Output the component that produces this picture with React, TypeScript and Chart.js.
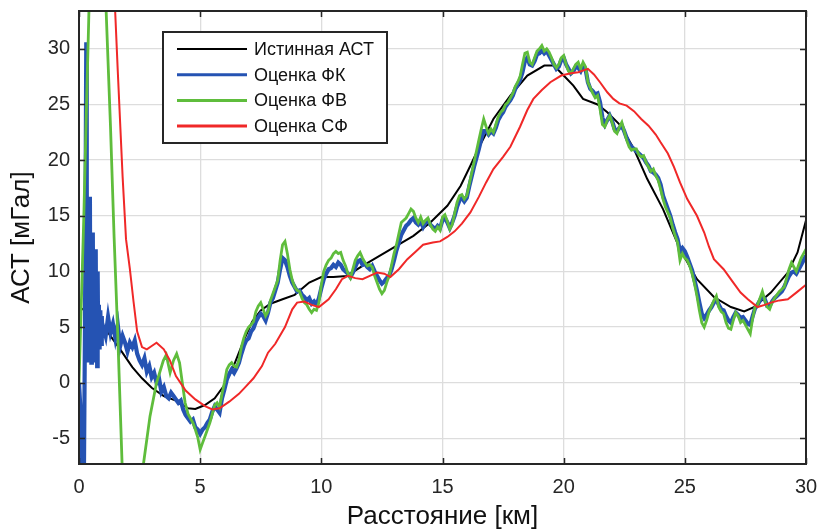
import React, { useEffect, useRef } from "react";
import { Chart, registerables } from "chart.js";

Chart.register(...registerables);

// ---------- axis ticks & labels ----------
const xTicks = [0, 5, 10, 15, 20, 25, 30];
const yTicks = [-5, 0, 5, 10, 15, 20, 25, 30];
const xRange = [0, 30];
const yRange = [-7.3, 33.4];
const seriesLabels = ["Истинная АСТ", "Оценка ФК", "Оценка ФВ", "Оценка СФ"];
const xTitle = "Расстояние [км]";
const yTitle = "АСТ [мГал]";

// ---------- true anomaly ----------
const trueX = [0, 0.4, 0.8, 1.2, 1.7, 2.2, 2.6, 3.0, 3.5, 4.0, 4.5, 4.8, 5.2, 5.6, 6.0, 6.4, 6.8, 7.15, 7.5, 7.9, 8.4, 8.9, 9.5, 10.0, 10.5, 11.05, 11.7, 12.4, 13.1, 13.8, 14.5, 15.2, 15.75, 16.15, 16.45, 17.1, 17.8, 18.5, 19.2, 19.6, 20.0, 20.4, 20.8, 21.4, 21.8, 22.35, 22.9, 23.45, 24.1, 24.8, 25.5, 26.2, 26.9, 27.45, 27.85, 28.55, 29.25, 29.65, 30];
const trueY = [6.8, 6.3, 5.5, 4.5, 3.0, 1.4, 0.4, -0.45, -1.2, -1.6, -2.3, -2.35, -2.0, -1.4, -0.2, 1.6, 3.8, 5.5, 6.5, 7.1, 7.5, 7.9, 9.0, 9.5, 9.5, 9.6, 10.5, 11.4, 12.3, 13.2, 14.4, 15.9, 17.7, 19.5, 20.9, 23.7, 25.8, 27.6, 28.5, 28.5, 27.6, 26.7, 25.5, 25.0, 24.3, 23.1, 21.0, 18.3, 15.6, 12.0, 9.3, 7.7, 6.8, 6.4, 6.8, 8.1, 9.9, 11.7, 14.6];

// ---------- Kalman filter estimate (ФК) ----------
const fkHeadX = [0, 0.05, 0.1, 0.15, 0.2, 0.25, 0.3, 0.32, 0.34, 0.37, 0.39, 0.41, 0.43, 0.45, 0.47, 0.49, 0.51, 0.53, 0.55, 0.57, 0.59, 0.61, 0.63, 0.65, 0.67, 0.69, 0.71, 0.73, 0.75, 0.77, 0.79, 0.82, 0.85, 0.88, 0.91, 0.94, 0.97];
const fkHeadY = [0, -2, -8, -9, -9, 6, 30.6, 18, 4, 13, 2, 14, 6, 16.7, 3, 12, 1.8, 10, 5, 13.5, 2.5, 11, 4, 9, 2, 12, 3.5, 8, 1.5, 10, 4, 7, 3, 6.5, 3.5, 6, 4.2];
const fkGridStart = 1.0;
const fkGridStep = 0.1;
const fkGridY = [
  5.0, 4.2, 5.9, 4.5, 5.3, 4.0, 5.2, 3.3, 4.2, 3.6,
  2.8, 3.6, 3.2, 3.8, 2.6, 2.0, 1.6, 2.2, 1.0, 1.5,
  0.5, 0.9, 0.0, 0.4, -0.8, -0.4, -1.2, -1.4, -0.9, -1.2,
  -1.5, -1.8, -1.6, -2.4, -2.9, -3.2, -3.5, -3.3, -4.0, -4.2,
  -4.6, -4.2, -4.0, -3.6, -3.3, -2.6, -2.1, -2.4, -2.7, -1.4,
  -0.6, 0.3, 0.8, 1.2, 0.9, 1.3, 1.8, 2.6, 3.3, 3.8,
  4.0, 4.6, 4.9, 5.5, 5.9, 6.2, 6.0, 5.6, 6.3, 7.2,
  7.6, 8.3, 9.0, 10.2, 11.2, 11.0, 10.4, 9.6, 9.0, 8.6,
  8.2, 8.3, 7.9, 7.7, 7.4, 7.6, 7.1, 7.3, 7.0, 7.6,
  8.5, 9.3, 9.8, 10.2, 10.3, 10.6, 10.4, 10.8, 10.6, 10.2,
  10.0, 9.8, 9.5, 9.9, 10.4, 10.9, 11.0, 10.6, 10.7, 10.4,
  10.2, 10.5, 10.0, 9.6, 9.2, 8.9, 9.1, 9.4, 9.6, 10.2,
  11.0, 11.9, 12.6, 13.3, 13.7, 14.1, 14.3, 14.6, 14.8, 14.4,
  14.2, 14.5, 14.0, 14.4, 14.6, 14.2, 14.0, 13.8, 14.1, 13.9,
  14.6, 14.8, 14.4, 13.9, 14.4, 15.0, 15.8, 16.4, 16.6, 16.3,
  16.6, 17.6, 18.5, 19.4, 20.2, 21.0, 21.9, 22.6, 22.6, 22.3,
  22.6, 22.4, 22.9, 23.6, 24.0, 24.3, 24.8, 25.1, 25.4, 25.8,
  26.4, 26.8, 27.2, 27.9, 28.9, 29.2, 28.6, 28.5, 28.9, 29.5,
  29.6, 29.9, 29.6, 29.8, 29.4, 29.0, 28.6, 28.2, 28.4, 29.0,
  29.2, 28.6, 28.2, 27.8, 28.0, 28.4, 28.3, 28.0, 28.5, 28.2,
  27.0, 26.4, 26.2, 25.9, 26.0, 25.2, 23.8, 23.2, 23.6, 24.0,
  23.5, 22.8, 22.6, 22.9, 23.1, 22.6, 22.0, 21.5, 21.2, 21.0,
  20.8, 20.6, 20.4, 20.2, 19.8, 19.5, 19.0, 18.9, 18.7, 18.4,
  17.8, 16.8, 16.2, 15.6, 15.0, 14.2, 13.5, 12.9, 11.8, 12.1,
  11.8, 11.3, 10.7, 10.1, 9.2, 8.3, 7.2, 6.2, 5.8, 6.1,
  6.5, 6.8, 7.2, 7.5, 7.0, 6.6, 6.5, 6.0, 5.6, 5.4,
  5.9, 6.3, 6.1, 5.8, 5.9, 5.6, 5.3, 5.2, 6.0, 6.7,
  7.0, 7.4, 7.8, 7.5, 6.9, 6.9, 7.3, 7.6, 7.8, 8.0,
  8.2, 8.6, 9.1, 9.6, 9.9, 10.0, 9.8, 10.2, 10.6, 11.0,
  11.4,
];

// ---------- ФВ estimate ----------
const fvHeadX = [0, 0.1, 0.2, 0.3, 0.4, 0.46, 1.05, 1.12, 1.3, 1.45, 1.6, 1.78, 2.2, 2.66, 2.93, 3.2, 3.48, 3.6, 3.76, 3.9, 4.03, 4.15, 4.25, 4.38, 4.5, 4.7, 4.8, 4.9];
const fvHeadY = [0, 7.5, 15, 24, 32.5, 38, 38, 33.4, 23, 13, 4.3, -7.4, -18, -7.3, -3.0, 0.0, 2.0, 2.5, 0.9, 2.0, 2.6, 1.8, 0.2, -1.8, -2.8, -3.6, -4.2, -4.9];
const fvGridStart = 5.0;
const fvGridStep = 0.1;
const fvGridY = [
  -6.0, -5.4, -4.8, -4.2, -3.6, -2.8, -2.0, -1.8, -2.2, -1.0,
  0.0, 1.2, 1.6, 1.8, 1.5, 1.4, 2.0, 3.2, 4.0, 4.6,
  5.0, 5.2, 5.5, 6.4, 6.9, 7.2, 6.6, 6.0, 6.4, 7.4,
  8.0, 8.6, 9.2, 11.0, 12.4, 12.7, 11.6, 10.2, 9.2, 8.6,
  8.3, 8.2, 7.6, 7.2, 7.0, 6.6, 6.3, 6.6, 6.5, 7.2,
  8.8, 10.0, 10.6, 11.0, 11.2, 11.6, 11.8, 11.6, 11.7, 11.0,
  10.5, 9.8, 9.4, 10.2, 11.0, 11.4, 11.7, 11.2, 10.8, 10.5,
  10.6, 10.4, 9.6, 9.0, 8.4, 8.0, 8.3, 9.0, 9.6, 10.6,
  11.6, 12.4, 13.4, 14.4, 14.6, 14.8, 15.2, 15.6, 15.4, 14.8,
  14.4, 14.9, 14.3, 14.6, 14.8, 14.2, 13.8, 13.6, 14.0, 13.7,
  14.9, 15.1, 14.5, 13.8, 14.2, 15.2, 16.2, 16.8, 16.9, 16.5,
  16.8, 17.8, 18.8, 19.8, 20.8, 21.8, 22.8, 23.7, 23.0, 22.4,
  22.8, 22.5, 23.2, 23.9, 24.3, 24.5, 25.0, 25.2, 25.6, 26.0,
  26.6, 27.0, 27.5, 28.6, 29.6, 29.7, 28.8, 28.6, 29.2, 29.8,
  30.0, 30.3, 29.8, 30.0, 29.7, 29.2, 28.6, 28.3, 28.6, 29.2,
  29.4, 28.6, 28.0, 27.8, 28.2, 28.6, 28.8, 28.2, 28.8, 28.4,
  27.0, 26.5, 26.0, 25.6, 25.8, 24.6, 23.2, 23.0, 23.6, 24.0,
  23.4, 22.6, 22.4, 23.0, 23.4, 22.6, 21.8, 21.2, 20.9, 21.0,
  21.0, 20.5, 20.3, 20.4, 19.8, 19.4, 19.0, 19.2, 18.6, 18.2,
  17.4, 16.5, 15.8, 15.3, 14.8, 13.9, 13.2, 12.6, 11.0, 11.6,
  11.2, 11.0, 10.5, 9.8, 8.9, 7.8, 6.5, 5.4, 5.0, 5.6,
  6.4, 6.9, 7.4, 7.8, 6.8, 6.4, 6.2, 5.4, 4.9, 4.8,
  5.6, 6.3, 6.0, 5.4, 5.6, 5.2, 4.8, 4.4, 5.8, 6.8,
  7.0, 7.6, 8.2, 7.4, 6.8, 6.6, 7.2, 7.6, 7.9, 8.2,
  8.4, 8.6, 9.4, 10.2, 10.8, 10.4, 10.0, 10.6, 11.2, 11.6,
  12.0,
];

// ---------- СФ estimate ----------
const sfX = [1.42, 1.6, 1.8, 1.94, 2.1, 2.25, 2.4, 2.6, 2.8, 3.0, 3.2, 3.5, 3.75, 4.0, 4.4, 4.8, 5.2, 5.5, 5.8, 6.2, 6.6, 6.9, 7.2, 7.55, 7.8, 8.1, 8.5, 8.8, 9.0, 9.3, 9.6, 9.9, 10.3, 10.6, 10.85, 11.1, 11.4, 11.7, 12.0, 12.3, 12.6, 12.85, 13.2, 13.55, 13.9, 14.2, 14.6, 14.9, 15.2, 15.5, 15.8, 16.15, 16.5, 16.8, 17.1, 17.5, 17.8, 18.2, 18.5, 18.75, 19.1, 19.45, 19.9, 20.3, 20.6, 21.0, 21.25, 21.5, 21.8, 22.05, 22.3, 22.6, 22.9, 23.2, 23.5, 23.8, 24.0, 24.3, 24.55, 24.8, 25.1, 25.5, 25.8, 26.0, 26.2, 26.6, 27.0, 27.3, 27.6, 28.0, 28.3, 28.55, 28.9, 29.25, 29.6, 30.0];
const sfY = [37, 28, 18.5, 12.9, 10.2, 7.3, 4.6, 3.2, 3.0, 3.3, 3.6, 3.0, 2.0, 0.6, -0.7, -1.5, -2.1, -2.4, -2.3, -1.7, -1.0, -0.3, 0.4, 1.5, 2.7, 3.5, 5.0, 6.6, 7.2, 7.3, 7.0, 6.8, 7.5, 8.4, 9.3, 9.6, 9.4, 9.3, 9.6, 9.9, 9.8, 9.5, 10.2, 11.1, 11.8, 12.4, 12.6, 12.7, 13.1, 13.6, 14.3, 15.3, 16.7, 18.0, 19.2, 20.3, 21.2, 23.0, 24.5, 25.5, 26.3, 27.0, 27.6, 27.8, 27.9, 28.2, 27.7, 27.0, 26.1, 25.5, 25.1, 24.9, 24.4, 23.7, 23.1, 22.3, 21.6, 20.6, 19.4, 18.0, 16.5, 15.0, 13.5, 12.2, 11.1, 10.2, 9.0, 8.1, 7.5, 6.8, 7.0, 7.2, 7.4, 7.5, 8.1, 8.8];

const colors = ["#000000", "#2553b3", "#5fbd3c", "#f02828"];
const widths = [2, 4.2, 2.8, 2];

const FONT = "'Liberation Sans', Arial, Helvetica, sans-serif";
const INK = "#262626";

function pairs(xs: number[], ys: number[]) {
  return xs.map((x, i) => ({ x, y: ys[i] }));
}
function gridPairs(start: number, step: number, ys: number[]) {
  return ys.map((y, i) => ({ x: +(start + i * step).toFixed(3), y }));
}

const framePlugin = {
  id: "matlabFrame",
  afterDatasetsDraw(chart: any) {
    const { ctx, chartArea: a, scales } = chart;
    ctx.save();
    ctx.strokeStyle = INK;
    ctx.lineWidth = 1.5;
    const tl = 6;
    ctx.beginPath();
    xTicks.forEach((v) => {
      const px = Math.round(scales.x.getPixelForValue(v)) + 0.5;
      ctx.moveTo(px, a.bottom);
      ctx.lineTo(px, a.bottom - tl);
      ctx.moveTo(px, a.top);
      ctx.lineTo(px, a.top + tl);
    });
    yTicks.forEach((v) => {
      const py = Math.round(scales.y.getPixelForValue(v)) + 0.5;
      ctx.moveTo(a.left, py);
      ctx.lineTo(a.left + tl, py);
      ctx.moveTo(a.right, py);
      ctx.lineTo(a.right - tl, py);
    });
    ctx.stroke();
    ctx.lineWidth = 2;
    ctx.strokeRect(a.left, a.top, a.right - a.left, a.bottom - a.top);

    // legend
    const lx = 163, ly = 32, lw = 224, lh = 111;
    ctx.fillStyle = "#ffffff";
    ctx.fillRect(lx, ly, lw, lh);
    ctx.lineWidth = 2;
    ctx.strokeStyle = INK;
    ctx.strokeRect(lx, ly, lw, lh);
    ctx.font = `18px ${FONT}`;
    ctx.textBaseline = "middle";
    ctx.textAlign = "left";
    chart.data.datasets.forEach((ds: any, i: number) => {
      const yy = ly + 17 + i * 25.7;
      ctx.strokeStyle = ds.borderColor;
      ctx.lineWidth = i === 0 ? 2.2 : 3;
      ctx.beginPath();
      ctx.moveTo(lx + 14, yy);
      ctx.lineTo(lx + 84, yy);
      ctx.stroke();
      ctx.fillStyle = "#111111";
      ctx.fillText(ds.label, lx + 91, yy + 1);
    });
    ctx.restore();
  },
};

export default function App() {
  const ref = useRef<HTMLCanvasElement | null>(null);

  useEffect(() => {
    if (!ref.current) return;
    const dataSets = [
      pairs(trueX, trueY),
      pairs(fkHeadX, fkHeadY).concat(gridPairs(fkGridStart, fkGridStep, fkGridY)),
      pairs(fvHeadX, fvHeadY).concat(gridPairs(fvGridStart, fvGridStep, fvGridY)),
      pairs(sfX, sfY),
    ];
    const chart = new Chart(ref.current, {
      type: "line",
      data: {
        datasets: dataSets.map((d, i) => ({
          label: seriesLabels[i],
          data: d,
          borderColor: colors[i],
          backgroundColor: colors[i],
          borderWidth: widths[i],
          pointRadius: 0,
          tension: 0,
          fill: false,
          clip: 0,
          order: 4 - i,
        })),
      },
      options: {
        animation: false,
        responsive: false,
        layout: { padding: { left: 0, top: 11, right: 15, bottom: 0 } },
        plugins: {
          legend: { display: false },
          tooltip: { enabled: false },
        },
        scales: {
          x: {
            type: "linear",
            min: xRange[0],
            max: xRange[1],
            afterBuildTicks: (s: any) => {
              s.ticks = xTicks.map((v) => ({ value: v }));
            },
            afterFit: (s: any) => {
              s.height = 68;
              s.paddingLeft = 0;
              s.paddingRight = 0;
            },
            grid: { color: "#dddddd", lineWidth: 1.3, drawTicks: false },
            border: { display: false },
            ticks: {
              color: INK,
              font: { family: FONT, size: 20 },
              padding: 11,
              maxRotation: 0,
              autoSkip: false,
            },
            title: {
              display: true,
              text: xTitle,
              color: "#111111",
              font: { family: FONT, size: 26 },
              padding: { top: 0, bottom: 0 },
            },
          },
          y: {
            type: "linear",
            min: yRange[0],
            max: yRange[1],
            afterBuildTicks: (s: any) => {
              s.ticks = yTicks.map((v) => ({ value: v }));
            },
            afterFit: (s: any) => {
              s.width = 79;
              s.paddingTop = 0;
              s.paddingBottom = 0;
            },
            grid: { color: "#dddddd", lineWidth: 1.3, drawTicks: false },
            border: { display: false },
            ticks: {
              color: INK,
              font: { family: FONT, size: 20 },
              padding: 9,
              autoSkip: false,
            },
            title: {
              display: true,
              text: yTitle,
              color: "#111111",
              font: { family: FONT, size: 26 },
              padding: { top: 6, bottom: 0 },
            },
          },
        },
      },
      plugins: [framePlugin],
    });
    return () => chart.destroy();
  }, []);

  return (
    <div style={{ position: "absolute", left: 0, top: 0, width: 821, height: 532, background: "#ffffff" }}>
      <canvas ref={ref} width={821} height={532} style={{ width: 821, height: 532, display: "block" }} />
    </div>
  );
}
